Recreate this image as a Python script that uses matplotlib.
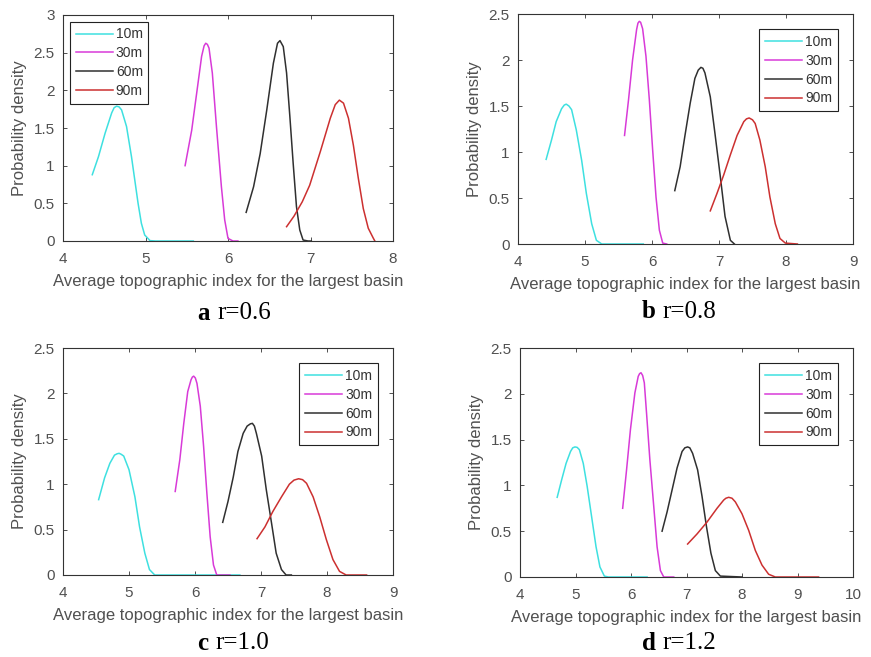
import matplotlib.pyplot as plt
from matplotlib.ticker import FormatStrFormatter

plt.rcParams['font.family'] = ['Liberation Sans', 'DejaVu Sans']

# ---- data (x = topographic index, y = density) ----
resolutions = ["10m", "30m", "60m", "90m"]
colors = ["#3ee0e0", "#d83ad8", "#303030", "#cc3030"]

# panel a, r=0.6
a_10m_x = [4.355, 4.43, 4.51, 4.59, 4.62, 4.65, 4.68, 4.71, 4.77, 4.83, 4.87, 4.91, 4.95, 4.99, 5.055, 5.12, 5.58]
a_10m_y = [0.88, 1.12, 1.43, 1.70, 1.77, 1.79, 1.78, 1.74, 1.52, 1.12, 0.81, 0.50, 0.235, 0.08, 0.005, 0.0, 0.0]
a_30m_x = [5.48, 5.56, 5.62, 5.68, 5.71, 5.73, 5.75, 5.77, 5.81, 5.86, 5.92, 5.96, 6.00, 6.06, 6.12]
a_30m_y = [1.00, 1.47, 1.96, 2.45, 2.59, 2.625, 2.61, 2.56, 2.23, 1.52, 0.72, 0.28, 0.035, 0.0, 0.0]
a_60m_x = [6.22, 6.31, 6.39, 6.47, 6.55, 6.60, 6.63, 6.67, 6.71, 6.75, 6.79, 6.83, 6.87, 6.91, 6.97, 7.01]
a_60m_y = [0.38, 0.72, 1.16, 1.74, 2.36, 2.625, 2.66, 2.58, 2.23, 1.65, 1.03, 0.455, 0.146, 0.013, 0.0, 0.0]
a_90m_x = [6.71, 6.80, 6.90, 6.99, 7.12, 7.24, 7.30, 7.35, 7.40, 7.46, 7.52, 7.58, 7.64, 7.70, 7.76, 7.78]
a_90m_y = [0.19, 0.33, 0.52, 0.74, 1.19, 1.63, 1.81, 1.87, 1.83, 1.63, 1.27, 0.83, 0.43, 0.17, 0.04, 0.0]

# panel b, r=0.8
b_10m_x = [4.42, 4.50, 4.57, 4.65, 4.69, 4.72, 4.76, 4.80, 4.87, 4.95, 5.02, 5.10, 5.17, 5.25, 5.87]
b_10m_y = [0.92, 1.13, 1.33, 1.47, 1.51, 1.52, 1.50, 1.46, 1.24, 0.91, 0.55, 0.22, 0.04, 0.0, 0.0]
b_30m_x = [5.59, 5.65, 5.71, 5.77, 5.79, 5.81, 5.83, 5.86, 5.91, 5.96, 6.01, 6.06, 6.11, 6.16, 6.22]
b_30m_y = [1.18, 1.57, 2.00, 2.33, 2.40, 2.42, 2.41, 2.34, 2.04, 1.57, 1.02, 0.51, 0.15, 0.01, 0.0]
b_60m_x = [6.34, 6.42, 6.49, 6.57, 6.64, 6.69, 6.73, 6.76, 6.79, 6.87, 6.94, 7.02, 7.09, 7.17, 7.23]
b_60m_y = [0.58, 0.84, 1.17, 1.53, 1.80, 1.89, 1.92, 1.91, 1.86, 1.60, 1.20, 0.73, 0.30, 0.04, 0.0]
b_90m_x = [6.87, 6.97, 7.07, 7.17, 7.27, 7.37, 7.41, 7.45, 7.50, 7.54, 7.61, 7.69, 7.76, 7.84, 7.91, 7.99, 8.17]
b_90m_y = [0.36, 0.55, 0.75, 0.97, 1.18, 1.33, 1.36, 1.37, 1.35, 1.31, 1.13, 0.84, 0.51, 0.22, 0.06, 0.01, 0.0]

# panel c, r=1.0
c_10m_x = [4.54, 4.63, 4.71, 4.78, 4.82, 4.85, 4.88, 4.92, 5.00, 5.09, 5.16, 5.24, 5.31, 5.39, 6.68]
c_10m_y = [0.83, 1.07, 1.23, 1.32, 1.335, 1.34, 1.33, 1.31, 1.16, 0.86, 0.53, 0.24, 0.06, 0.0, 0.0]
c_30m_x = [5.70, 5.77, 5.83, 5.89, 5.94, 5.96, 5.98, 6.005, 6.03, 6.08, 6.13, 6.18, 6.23, 6.28, 6.33, 6.53]
c_30m_y = [0.92, 1.27, 1.67, 2.02, 2.15, 2.18, 2.19, 2.17, 2.11, 1.86, 1.42, 0.90, 0.42, 0.11, 0.0, 0.0]
c_60m_x = [6.42, 6.50, 6.58, 6.65, 6.73, 6.79, 6.84, 6.87, 6.90, 6.93, 7.01, 7.08, 7.16, 7.23, 7.31, 7.38, 7.46]
c_60m_y = [0.58, 0.81, 1.08, 1.36, 1.56, 1.64, 1.665, 1.67, 1.64, 1.56, 1.31, 0.94, 0.57, 0.24, 0.06, 0.0, 0.0]
c_90m_x = [6.94, 7.06, 7.18, 7.31, 7.43, 7.50, 7.57, 7.63, 7.69, 7.79, 7.89, 7.99, 8.09, 8.19, 8.29, 8.60]
c_90m_y = [0.40, 0.53, 0.70, 0.86, 1.00, 1.045, 1.06, 1.05, 1.01, 0.86, 0.64, 0.39, 0.17, 0.04, 0.0, 0.0]

# panel d, r=1.2
d_10m_x = [4.67, 4.75, 4.83, 4.91, 4.95, 4.99, 5.03, 5.07, 5.14, 5.21, 5.29, 5.37, 5.44, 5.52, 5.59, 6.29]
d_10m_y = [0.87, 1.06, 1.24, 1.37, 1.41, 1.42, 1.415, 1.39, 1.24, 0.99, 0.66, 0.33, 0.11, 0.01, 0.0, 0.0]
d_30m_x = [5.85, 5.92, 5.99, 6.07, 6.13, 6.155, 6.18, 6.21, 6.24, 6.28, 6.34, 6.41, 6.47, 6.53, 6.59, 6.77]
d_30m_y = [0.75, 1.17, 1.61, 2.01, 2.19, 2.22, 2.23, 2.20, 2.12, 1.79, 1.28, 0.77, 0.33, 0.07, 0.0, 0.0]
d_60m_x = [6.56, 6.65, 6.74, 6.83, 6.92, 6.97, 7.02, 7.06, 7.11, 7.20, 7.28, 7.36, 7.44, 7.52, 7.61, 8.00]
d_60m_y = [0.50, 0.71, 0.95, 1.19, 1.37, 1.41, 1.42, 1.41, 1.35, 1.17, 0.88, 0.55, 0.26, 0.07, 0.01, 0.0]
d_90m_x = [7.02, 7.19, 7.37, 7.55, 7.67, 7.71, 7.76, 7.82, 7.88, 8.00, 8.12, 8.24, 8.36, 8.48, 8.60, 9.38]
d_90m_y = [0.36, 0.47, 0.60, 0.75, 0.84, 0.86, 0.87, 0.86, 0.82, 0.69, 0.51, 0.29, 0.13, 0.03, 0.0, 0.0]

panels = [
    ("a", "r=0.6", [(a_10m_x, a_10m_y), (a_30m_x, a_30m_y), (a_60m_x, a_60m_y), (a_90m_x, a_90m_y)],
     (4, 8), (0, 3)),
    ("b", "r=0.8", [(b_10m_x, b_10m_y), (b_30m_x, b_30m_y), (b_60m_x, b_60m_y), (b_90m_x, b_90m_y)],
     (4, 9), (0, 2.5)),
    ("c", "r=1.0", [(c_10m_x, c_10m_y), (c_30m_x, c_30m_y), (c_60m_x, c_60m_y), (c_90m_x, c_90m_y)],
     (4, 9), (0, 2.5)),
    ("d", "r=1.2", [(d_10m_x, d_10m_y), (d_30m_x, d_30m_y), (d_60m_x, d_60m_y), (d_90m_x, d_90m_y)],
     (4, 10), (0, 2.5)),
]

# axes boxes in pixels: left, top, right, bottom
W, H = 871, 657
boxes = [(63, 15, 393, 241), (518, 14, 853, 244), (63, 348, 393, 575), (520, 348, 853, 577)]
# caption positions (pixels): letter x, rest x, y
captions = [(197, 217, 313), (642, 662, 312), (197, 215, 643), (642, 662, 643)]

fig = plt.figure(figsize=(W / 100, H / 100), dpi=100)
grey = "#333333"

for i, (lettre, texte, courbes, xlim, ylim) in enumerate(panels):
    l, t, r, b = boxes[i]
    ax = fig.add_axes([l / W, 1 - b / H, (r - l) / W, (b - t) / H])
    for (x, y), nom, coul in zip(courbes, resolutions, colors):
        ax.plot(x, y, color=coul, lw=1.1, label=nom, solid_joinstyle="round")
    ax.set_xlim(*xlim)
    ax.set_ylim(*ylim)
    ax.set_xticks(range(xlim[0], xlim[1] + 1))
    ax.set_yticks([k * 0.5 for k in range(int(ylim[1] / 0.5) + 1)])
    ax.yaxis.set_major_formatter(FormatStrFormatter("%g"))
    ax.tick_params(direction="in", top=True, right=True, length=3, width=0.6,
                   labelsize=11, colors=grey, labelcolor="#505050")
    ax.tick_params(axis="x", pad=8)
    ax.tick_params(axis="y", pad=6)
    for s in ax.spines.values():
        s.set_color(grey)
        s.set_linewidth(0.8)
    ax.set_xlabel("Average topographic index for the largest basin", fontsize=12, color="#505050", labelpad=6)
    ax.set_ylabel("Probability density", fontsize=12, color="#505050", labelpad=5)
    if i == 0:
        leg = ax.legend(loc="upper left", borderaxespad=0.5, fontsize=10, handlelength=2.7,
                        labelspacing=0.35, handletextpad=0.2, borderpad=0.4, fancybox=False,
                        framealpha=1)
    else:
        leg = ax.legend(loc="upper right", borderaxespad=1.1, fontsize=10, handlelength=2.7,
                        labelspacing=0.35, handletextpad=0.2, borderpad=0.4, fancybox=False,
                        framealpha=1)
    leg.get_frame().set_edgecolor("#222222")
    leg.get_frame().set_linewidth(0.8)
    for txt in leg.get_texts():
        txt.set_color("#333333")

    lx, rx, cy = captions[i]
    fig.text(lx / W, 1 - cy / H, lettre, fontsize=18, fontweight="bold",
             family="Liberation Serif", ha="left", va="center")
    fig.text(rx / W, 1 - cy / H, texte, fontsize=18, family="Liberation Serif",
             ha="left", va="center")

fig.savefig("out.png", dpi=100)
